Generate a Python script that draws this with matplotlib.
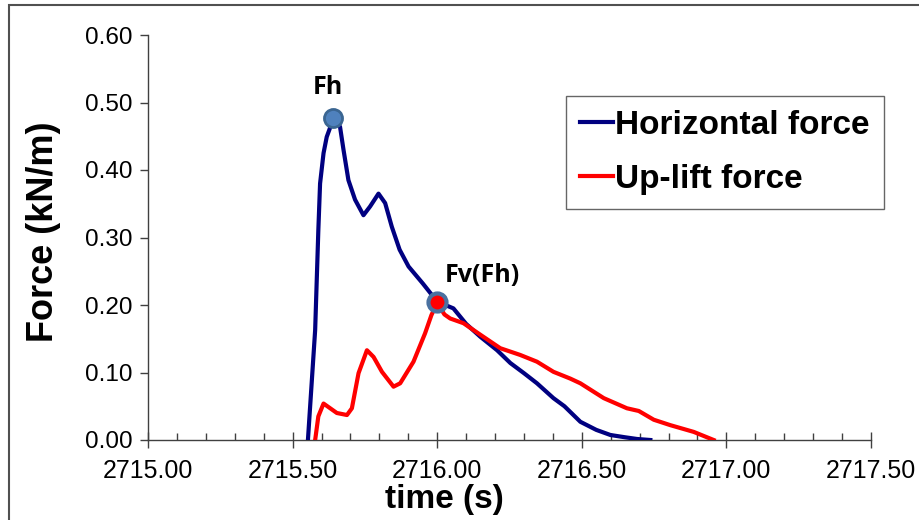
import matplotlib
matplotlib.use("Agg")
import matplotlib.pyplot as plt
from matplotlib.ticker import MultipleLocator, FormatStrFormatter
from matplotlib.patches import Rectangle

# Data
horiz_t = [2715.553, 2715.578, 2715.589, 2715.595, 2715.607, 2715.618, 2715.635,
           2715.641, 2715.664, 2715.676, 2715.693, 2715.716, 2715.745, 2715.768,
           2715.797, 2715.820, 2715.843, 2715.870, 2715.901, 2715.950, 2716.000,
           2716.056, 2716.100, 2716.149, 2716.207, 2716.253, 2716.300, 2716.345,
           2716.402, 2716.440, 2716.495, 2716.550, 2716.599, 2716.650, 2716.691,
           2716.737]
horiz_f = [0.000, 0.163, 0.311, 0.380, 0.425, 0.449, 0.469,
           0.479, 0.464, 0.430, 0.385, 0.356, 0.333, 0.346,
           0.365, 0.351, 0.316, 0.282, 0.257, 0.232, 0.205,
           0.195, 0.172, 0.153, 0.133, 0.114, 0.099, 0.084,
           0.062, 0.050, 0.027, 0.015, 0.0074, 0.004, 0.0015,
           0.000]

uplift_t = [2715.578, 2715.589, 2715.607, 2715.630, 2715.653, 2715.688, 2715.705,
            2715.728, 2715.757, 2715.780, 2715.809, 2715.849, 2715.872, 2715.918,
            2715.958, 2715.980, 2716.000, 2716.025, 2716.045, 2716.091, 2716.149,
            2716.218, 2716.287, 2716.345, 2716.402, 2716.460, 2716.495, 2716.576,
            2716.656, 2716.697, 2716.749, 2716.806, 2716.887, 2716.956]
uplift_f = [0.000, 0.035, 0.054, 0.047, 0.040, 0.037, 0.047,
            0.099, 0.133, 0.123, 0.101, 0.079, 0.084, 0.116,
            0.158, 0.185, 0.203, 0.186, 0.180, 0.173, 0.156,
            0.136, 0.126, 0.116, 0.101, 0.091, 0.084, 0.062,
            0.047, 0.043, 0.030, 0.022, 0.012, 0.000]

fh_point = (2715.641, 0.477)
fv_point = (2716.000, 0.204)

x_ticks = [2715.00, 2715.50, 2716.00, 2716.50, 2717.00, 2717.50]
y_ticks = [0.00, 0.10, 0.20, 0.30, 0.40, 0.50, 0.60]

fig = plt.figure(figsize=(9.19, 5.2), dpi=100)
ax = fig.add_axes([148 / 919, 80 / 520, 723 / 919, 405 / 520])

ax.plot(horiz_t, horiz_f, color="#000080", lw=3, solid_joinstyle="round",
        label="Horizontal force", zorder=3)
ax.plot(uplift_t, uplift_f, color="#FF0000", lw=3, solid_joinstyle="round",
        label="Up-lift force", zorder=3)

# marked points
ax.plot(*fh_point, "o", ms=13, mfc="#4F81BD", mec="#3A6591", mew=2, zorder=5)
ax.plot(*fv_point, "o", ms=13, mfc="#FF0000", mec="#4A71A0", mew=3, zorder=5)
ax.text(fh_point[0] - 0.02, 0.522, "Fh", fontsize=18, fontweight="bold", family="Open Sans",
        ha="center", va="center")
ax.text(2716.156, 0.244, "Fv(Fh)", fontsize=18, fontweight="bold", family="Open Sans",
        ha="center", va="center")

ax.set_xlim(2715.0, 2717.5)
ax.set_ylim(0.0, 0.6)
ax.set_xticks(x_ticks)
ax.set_yticks(y_ticks)
ax.xaxis.set_minor_locator(MultipleLocator(0.1))
ax.xaxis.set_major_formatter(FormatStrFormatter("%.2f"))
ax.yaxis.set_major_formatter(FormatStrFormatter("%.2f"))

for s in ["top", "right"]:
    ax.spines[s].set_visible(False)
for s in ["left", "bottom"]:
    ax.spines[s].set_color("#404040")
    ax.spines[s].set_linewidth(1)

ax.tick_params(axis="x", which="major", direction="inout", length=11, width=1,
               color="#404040", labelsize=18, pad=8)
ax.tick_params(axis="x", which="minor", direction="in", length=5, width=1, color="#404040")
ax.tick_params(axis="y", which="major", direction="out", length=6, width=1,
               color="#404040", labelsize=17.5, pad=5)
for lbl in ax.get_xticklabels() + ax.get_yticklabels():
    lbl.set_family("Liberation Sans")

ax.set_xlabel("time (s)", fontsize=24, fontweight="bold", family="Liberation Sans",
              labelpad=0)
ax.xaxis.set_label_coords((444 - 148) / 723, -0.108)
ax.set_ylabel("Force (kN/m)", fontsize=26, fontweight="bold", family="Liberation Sans")
ax.yaxis.set_label_coords(-0.12, (440 - 232) / 405)

leg = ax.legend(loc="upper left", bbox_to_anchor=((566 - 148) / 723, (440 - 96) / 405),
                prop={"family": "Liberation Sans", "weight": "bold", "size": 24},
                frameon=True, fancybox=False, handlelength=1.0, handletextpad=0.05,
                borderpad=0.42, labelspacing=0.68, borderaxespad=0)
leg.get_frame().set_edgecolor("#404040")
leg.get_frame().set_linewidth(1)
for h in leg.get_lines():
    h.set_linewidth(3)

# outer chart border
fig.patches.append(Rectangle((9 / 919, -0.1), 1.0, 1.1 - 5 / 520,
                             transform=fig.transFigure, fill=False,
                             edgecolor="#505050", lw=1.5, clip_on=False))

fig.savefig("out.png", dpi=100)
